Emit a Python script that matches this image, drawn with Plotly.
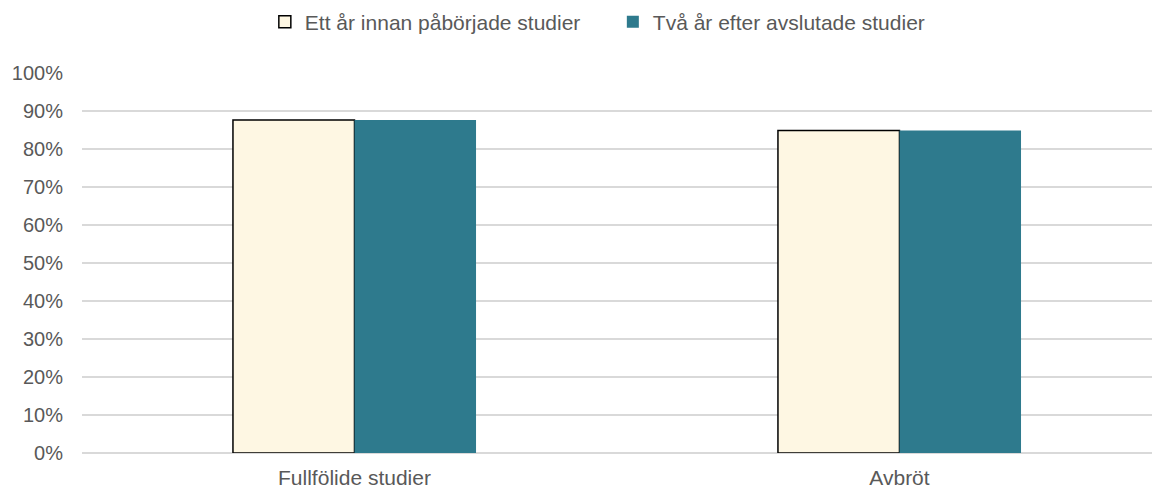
import plotly.graph_objects as go

categories = ["Fullfölide studier", "Avbröt"]
series_names = ["Ett år innan påbörjade studier", "Två år efter avslutade studier"]
before = [0.876, 0.849]
after = [0.876, 0.849]
y_ticks = [0, 0.1, 0.2, 0.3, 0.4, 0.5, 0.6, 0.7, 0.8, 0.9, 1.0]
y_tick_labels = ["0%", "10%", "20%", "30%", "40%", "50%", "60%", "70%", "80%", "90%", "100%"]

FONT = "Liberation Sans, Arial, sans-serif"
FS = 20
TXT = "#595959"
x_idx = list(range(len(categories)))

fig = go.Figure()
fig.add_trace(go.Bar(
    x=x_idx, y=before, name=series_names[0],
    marker=dict(color="#FEF7E3", line=dict(color="#000000", width=1.5)),
))
fig.add_trace(go.Bar(
    x=x_idx, y=after, name=series_names[1],
    marker=dict(color="#2E7A8D", line=dict(color="#2E7A8D", width=0)),
))

fig.update_layout(
    width=1160, height=487,
    margin=dict(l=74, r=0, t=65, b=42),
    paper_bgcolor="white", plot_bgcolor="white",
    barmode="group", bargap=0.554, bargroupgap=0,
    font=dict(family=FONT, size=FS, color=TXT),
    showlegend=True,
    legend=dict(
        orientation="h", x=0.4888, xanchor="center", y=0.971, yanchor="middle",
        yref="container", font=dict(family=FONT, size=21, color=TXT),
        itemwidth=30, traceorder="normal",
        entrywidth=303, entrywidthmode="pixels",
    ),
    xaxis=dict(
        range=[-0.5, 1.4927], tickvals=x_idx, ticktext=categories,
        showgrid=False, zeroline=False, showline=False, ticks="",
        ticklabelstandoff=10,
        tickfont=dict(family=FONT, size=21, color=TXT),
    ),
    yaxis=dict(
        range=[0, 1.0], tickvals=y_ticks, ticktext=y_tick_labels,
        showgrid=True, gridcolor="#D9D9D9", gridwidth=1.5,
        zeroline=True, zerolinecolor="#D9D9D9", zerolinewidth=1.5,
        showline=False, ticks="", ticklabelstandoff=18,
        tickfont=dict(family=FONT, size=FS, color=TXT),
    ),
)

fig.write_html("out.html")
